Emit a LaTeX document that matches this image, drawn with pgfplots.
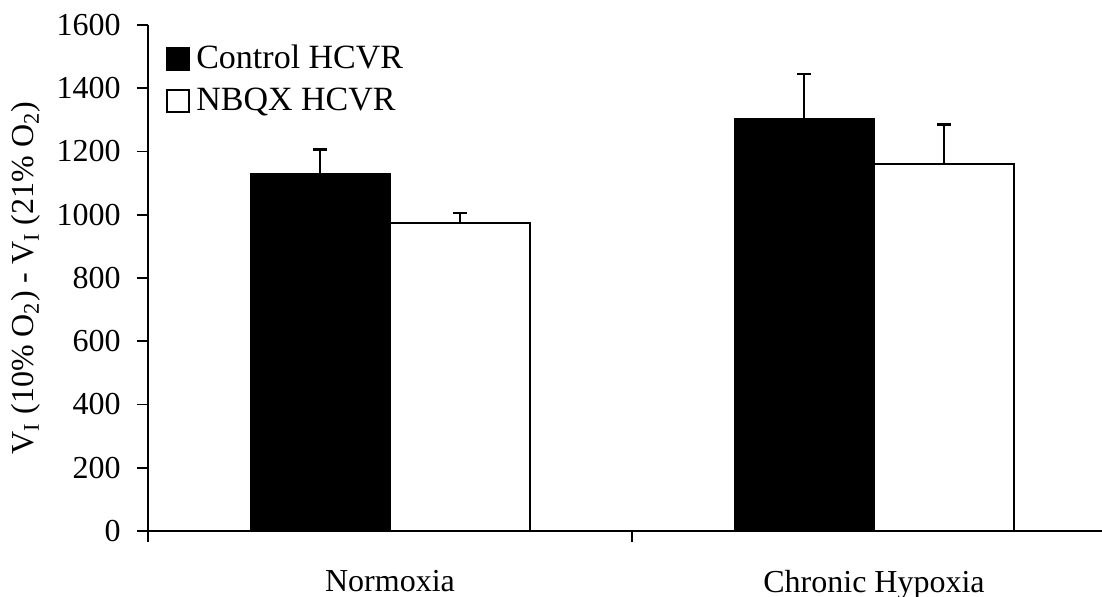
\documentclass[border=0pt]{standalone}
\usepackage{fontspec}
\setmainfont{Liberation Serif}
\usepackage{pgfplots}
\pgfplotsset{compat=1.18}

\newcommand{\chartfont}{\fontsize{16}{19}\selectfont}
\newcommand{\legendfont}{\fontsize{17}{20}\selectfont}

\begin{document}
\begin{tikzpicture}
\begin{axis}[
  at={(0,0)}, anchor=south west,
  scale only axis,
  width=477pt, height=253pt,
  xmin=-0.5, xmax=1.471,
  ymin=0, ymax=1600,
  axis lines*=left,
  axis line style={line width=0.9pt},
  tick style={line width=0.9pt, black},
  tick align=outside,
  major tick length=5.5pt,
  xtick={-0.5,0.5},
  xticklabels={},
  extra x ticks={0,1},
  extra x tick labels={Normoxia, Chronic Hypoxia},
  extra x tick style={major tick length=0pt,
    xticklabel style={anchor=north, inner sep=0pt, yshift=-19.5pt}},
  ytick={0,200,...,1600},
  /pgf/number format/assume math mode=true,
  /pgf/number format/1000 sep={},
  yticklabel style={anchor=east, inner sep=0pt, xshift=-8pt},
  tick label style={font=\chartfont},
  ylabel={V\textsubscript{I} (10\% O\textsubscript{2}) - V\textsubscript{I} (21\% O\textsubscript{2})},
  ylabel style={font=\chartfont, at={(axis description cs:0,0.5)}, anchor=center, yshift=61pt},
  ybar, bar width=70pt,
  legend style={draw=none, fill=none, font=\legendfont,
    at={(axis description cs:0,1)}, anchor=north west,
    xshift=9pt, yshift=-9pt, inner sep=0pt,
    row sep=6pt,
    nodes={inner sep=1pt}},
  legend cell align=left,
  legend image code/.code={%
    \draw[#1, line width=0.9pt] (0pt,-5.5pt) rectangle (11pt,5.5pt);
    \path[draw=none, fill=none] (0pt,0pt) -- (13.5pt,0pt);},
  error bars/y dir=plus,
  error bars/y explicit,
  error bars/error bar style={line width=1.3pt, black},
  error bars/error mark options={rotate=90, mark size=3.3pt, line width=1.3pt, black},
]
% Control HCVR
\addplot[bar shift=-35pt, fill=black, draw=black, line width=0.5pt]
  coordinates {(0,1131) +- (0,76) (1,1305) +- (0,140)};
\addlegendentry{Control HCVR}
% NBQX HCVR
\addplot[bar shift=35pt, fill=white, draw=black, line width=1pt]
  coordinates {(0,973) +- (0,32) (1,1160) +- (0,125)};
\addlegendentry{NBQX HCVR}
\end{axis}
\pgfresetboundingbox
\path (-74pt,-33pt) rectangle (477pt,265.5pt);
\end{tikzpicture}
\end{document}
